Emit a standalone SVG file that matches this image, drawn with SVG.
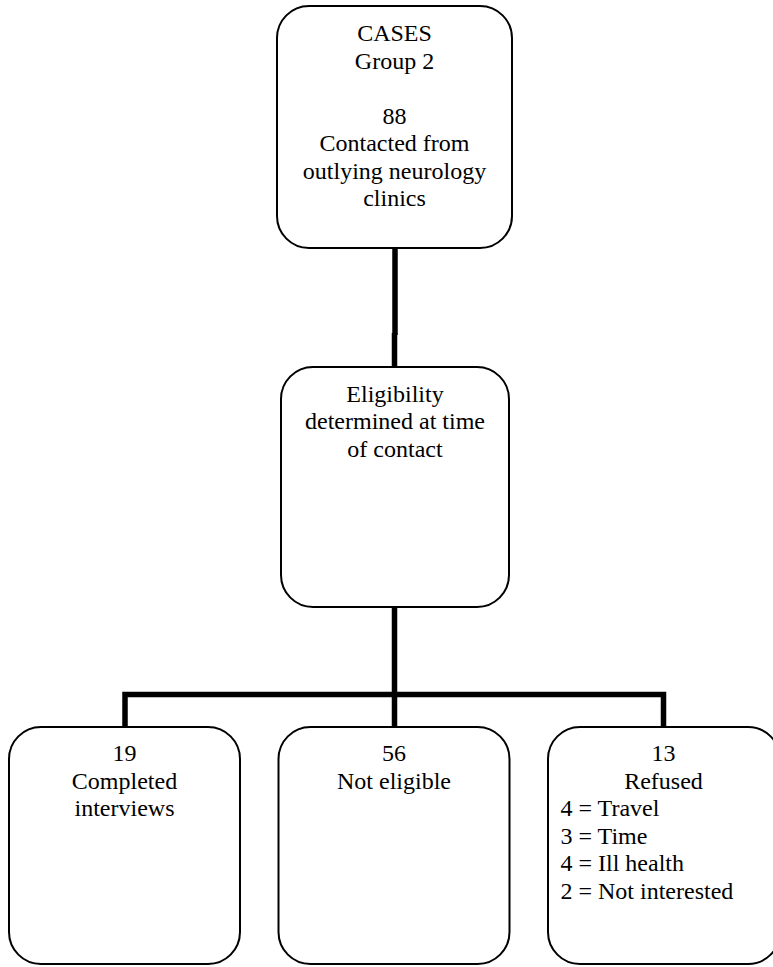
<svg xmlns="http://www.w3.org/2000/svg" width="773" height="967" viewBox="0 0 773 967">
<style>
.box{fill:#fff;stroke:#000;stroke-width:2}
.t{font-family:"Liberation Serif","Times New Roman",serif;font-size:24px;fill:#000}
.c{text-anchor:middle}
.conn{fill:none;stroke:#000;stroke-width:5.5;stroke-linecap:butt;stroke-linejoin:miter}
</style>
<rect width="773" height="967" fill="#fff"/>
<g id="connectors">
<path class="conn" d="M395,248 V335"/>
<path class="conn" d="M394.5,333 V367"/>
<path class="conn" d="M394.5,607 V727"/>
<path class="conn" d="M125,727 V694.5 H663.5 V727"/>
</g>
<g id="cases">
<rect class="box" x="277" y="6" width="235" height="242" rx="32" ry="32"/>
<text class="t c" x="394.5" y="41">CASES</text>
<text class="t c" x="394.5" y="68.5">Group 2</text>
<text class="t c" x="394.5" y="123.5">88</text>
<text class="t c" x="394.5" y="151">Contacted from</text>
<text class="t c" x="394.5" y="178.5">outlying neurology</text>
<text class="t c" x="394.5" y="206">clinics</text>
</g>
<g id="eligibility">
<rect class="box" x="281" y="367" width="228" height="240" rx="32" ry="32"/>
<text class="t c" x="395" y="401.5">Eligibility</text>
<text class="t c" x="395" y="429">determined at time</text>
<text class="t c" x="395" y="456.5">of contact</text>
</g>
<g id="completed">
<rect class="box" x="9" y="727" width="231" height="237" rx="32" ry="32"/>
<text class="t c" x="124.5" y="761">19</text>
<text class="t c" x="124.5" y="788.5">Completed</text>
<text class="t c" x="124.5" y="816">interviews</text>
</g>
<g id="not-eligible">
<rect class="box" x="278.5" y="727" width="231" height="237" rx="32" ry="32"/>
<text class="t c" x="394" y="761">56</text>
<text class="t c" x="394" y="788.5">Not eligible</text>
</g>
<g id="refused">
<rect class="box" x="548" y="727" width="232" height="237" rx="32" ry="32"/>
<text class="t c" x="663.5" y="761">13</text>
<text class="t c" x="663.5" y="788.5">Refused</text>
<text class="t" x="560.5" y="816">4 = Travel</text>
<text class="t" x="560.5" y="843.5">3 = Time</text>
<text class="t" x="560.5" y="871">4 = Ill health</text>
<text class="t" x="560.5" y="898.5">2 = Not interested</text>
</g>
</svg>
